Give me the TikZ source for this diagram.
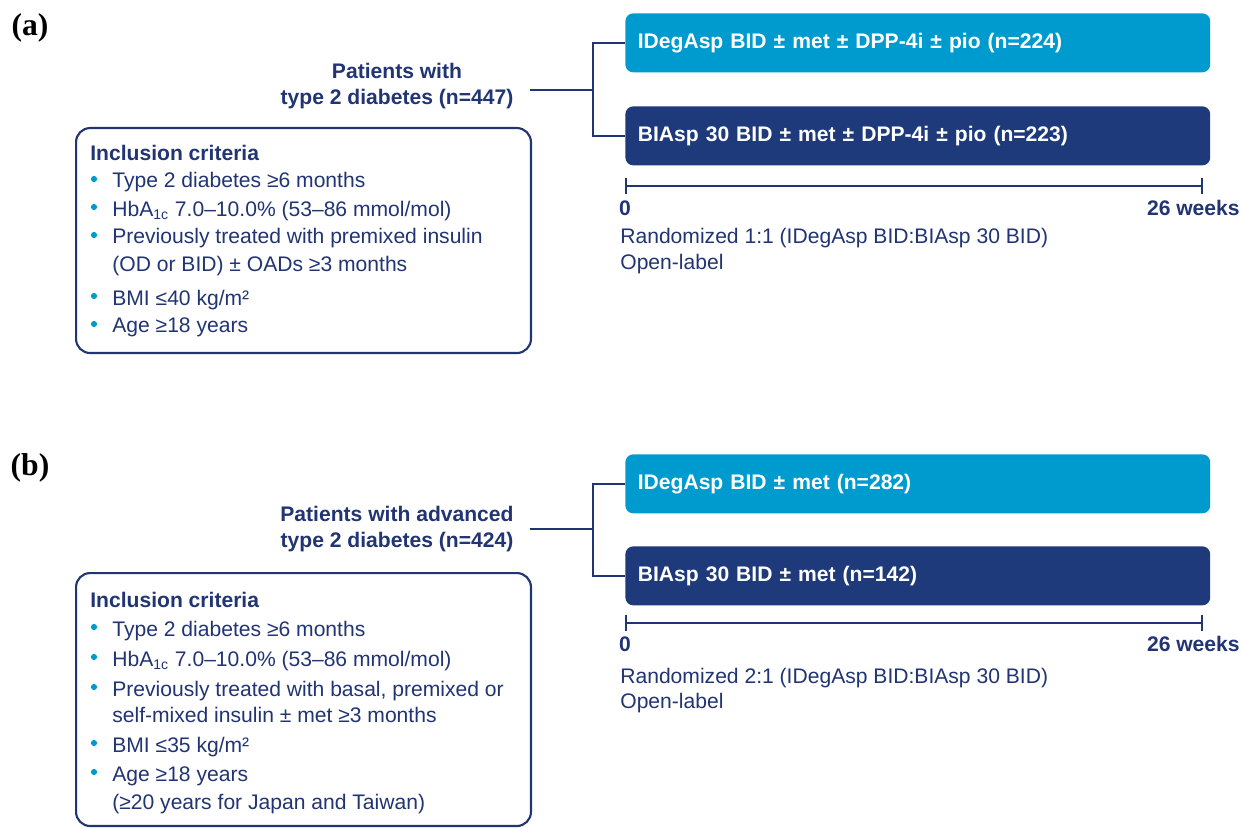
\documentclass[12pt,tikz,border=0pt]{standalone}
\usepackage{fontspec}
\setmainfont{Liberation Sans}
\newfontfamily\panelfont{Liberation Serif}
\usetikzlibrary{arrows.meta, positioning}

\definecolor{armlight}{RGB}{0,155,206}
\definecolor{armdark}{RGB}{30,58,122}
\definecolor{navy}{RGB}{33,52,115}

\begin{document}
\begin{tikzpicture}[x=0.02cm, y=-0.02cm,
    arm/.style={rounded corners=4.5pt, minimum width=11.7cm, minimum height=1.18cm,
        text width=11.2cm, align=left, inner xsep=0.25cm, font=\bfseries,
        text=white, anchor=north west},
    armlight/.style={arm, fill=armlight},
    armdark/.style={arm, fill=armdark},
    link/.style={navy, line width=1.1pt},
    critbox/.style={draw=navy, line width=1.2pt, rounded corners=8pt,
        minimum width=9.1cm, anchor=north west},
    crit/.style={anchor=base west, text=navy, inner sep=0pt},
    dot/.style={circle, fill=armlight, inner sep=0pt, minimum size=3.5pt},
    panel/.style={font=\panelfont\bfseries\fontsize{18}{20}\selectfont}
]
\useasboundingbox (0,0) rectangle (1242,828);

% ---------------- Panel (a)
\node[panel] (taga) at (30,28) {(a)};
\node[align=center, font=\bfseries, text=navy] (pata) at (397,86)
    {Patients with\\type 2 diabetes (n=447)};

% Arms
\node[armlight] (ida) at (625,13) {IDegAsp BID ± met ± DPP-4i ± pio (n=224)};
\node[armdark] (bia) at (625,106) {BIAsp 30 BID ± met ± DPP-4i ± pio (n=223)};

\coordinate (splita) at (593,90);
\draw[link] (530,90) -- (splita);
\draw[link] (ida.west) -| (splita) |- (bia.west);

% Timeline
\coordinate (t0a) at (625,186);
\coordinate (t26a) at (1203,186);
\draw[link, {Bar[width=9pt]}-{Bar[width=9pt]}] (t0a) -- (t26a);
\node[font=\bfseries, text=navy, anchor=base] (zeroa) at (625,215) {0};
\node[font=\bfseries, text=navy, anchor=base east, inner sep=0pt] (enda) at (1240,215) {26 weeks};
\node[crit] (randa) at (620,244) {Randomized 1:1 (IDegAsp BID:BIAsp 30 BID)};
\node[crit] (opena) at (620,270) {Open-label};

% Inclusion criteria
\node[critbox, minimum height=4.5cm] (crita) at (75,127) {};
\node[crit, font=\bfseries] (heada) at (90,161) {Inclusion criteria};
\node[crit] (a1) at (112,188) {Type 2 diabetes ≥6 months};
\node[crit] (a2) at (112,216) {HbA\textsubscript{1c} 7.0–10.0\% (53–86 mmol/mol)};
\node[crit] (a3) at (112,244) {Previously treated with premixed insulin};
\node[crit] (a4) at (112,272) {(OD or BID) ± OADs ≥3 months};
\node[crit] (a5) at (112,305) {BMI ≤40 kg/m²};
\node[crit] (a6) at (112,333) {Age ≥18 years};
\foreach \y in {179,207,235,296,324}
    \node[dot] (dota\y) at (94,\y) {};

% ---------------- Panel (b)
\node[panel] (tagb) at (30,468) {(b)};
\node[align=center, font=\bfseries, text=navy] (patb) at (397,529)
    {Patients with advanced\\type 2 diabetes (n=424)};

% Arms
\node[armlight] (idb) at (625,454) {IDegAsp BID ± met (n=282)};
\node[armdark] (bib) at (625,546) {BIAsp 30 BID ± met (n=142)};

\coordinate (splitb) at (593,529);
\draw[link] (530,529) -- (splitb);
\draw[link] (idb.west) -| (splitb) |- (bib.west);

% Timeline
\coordinate (t0b) at (625,623);
\coordinate (t26b) at (1203,623);
\draw[link, {Bar[width=9pt]}-{Bar[width=9pt]}] (t0b) -- (t26b);
\node[font=\bfseries, text=navy, anchor=base] (zerob) at (625,651) {0};
\node[font=\bfseries, text=navy, anchor=base east, inner sep=0pt] (endb) at (1240,651) {26 weeks};
\node[crit] (randb) at (620,683) {Randomized 2:1 (IDegAsp BID:BIAsp 30 BID)};
\node[crit] (openb) at (620,708) {Open-label};

% Inclusion criteria
\node[critbox, minimum height=5.06cm] (critb) at (75,572) {};
\node[crit, font=\bfseries] (headb) at (90,607) {Inclusion criteria};
\node[crit] (b1) at (112,636) {Type 2 diabetes ≥6 months};
\node[crit] (b2) at (112,666) {HbA\textsubscript{1c} 7.0–10.0\% (53–86 mmol/mol)};
\node[crit] (b3) at (112,696) {Previously treated with basal, premixed or};
\node[crit] (b4) at (112,722) {self-mixed insulin ± met ≥3 months};
\node[crit] (b5) at (112,752) {BMI ≤35 kg/m²};
\node[crit] (b6) at (112,781) {Age ≥18 years};
\node[crit] (b7) at (112,809) {(≥20 years for Japan and Taiwan)};
\foreach \y in {627,657,687,743,772}
    \node[dot] (dotb\y) at (94,\y) {};

\end{tikzpicture}
\end{document}
